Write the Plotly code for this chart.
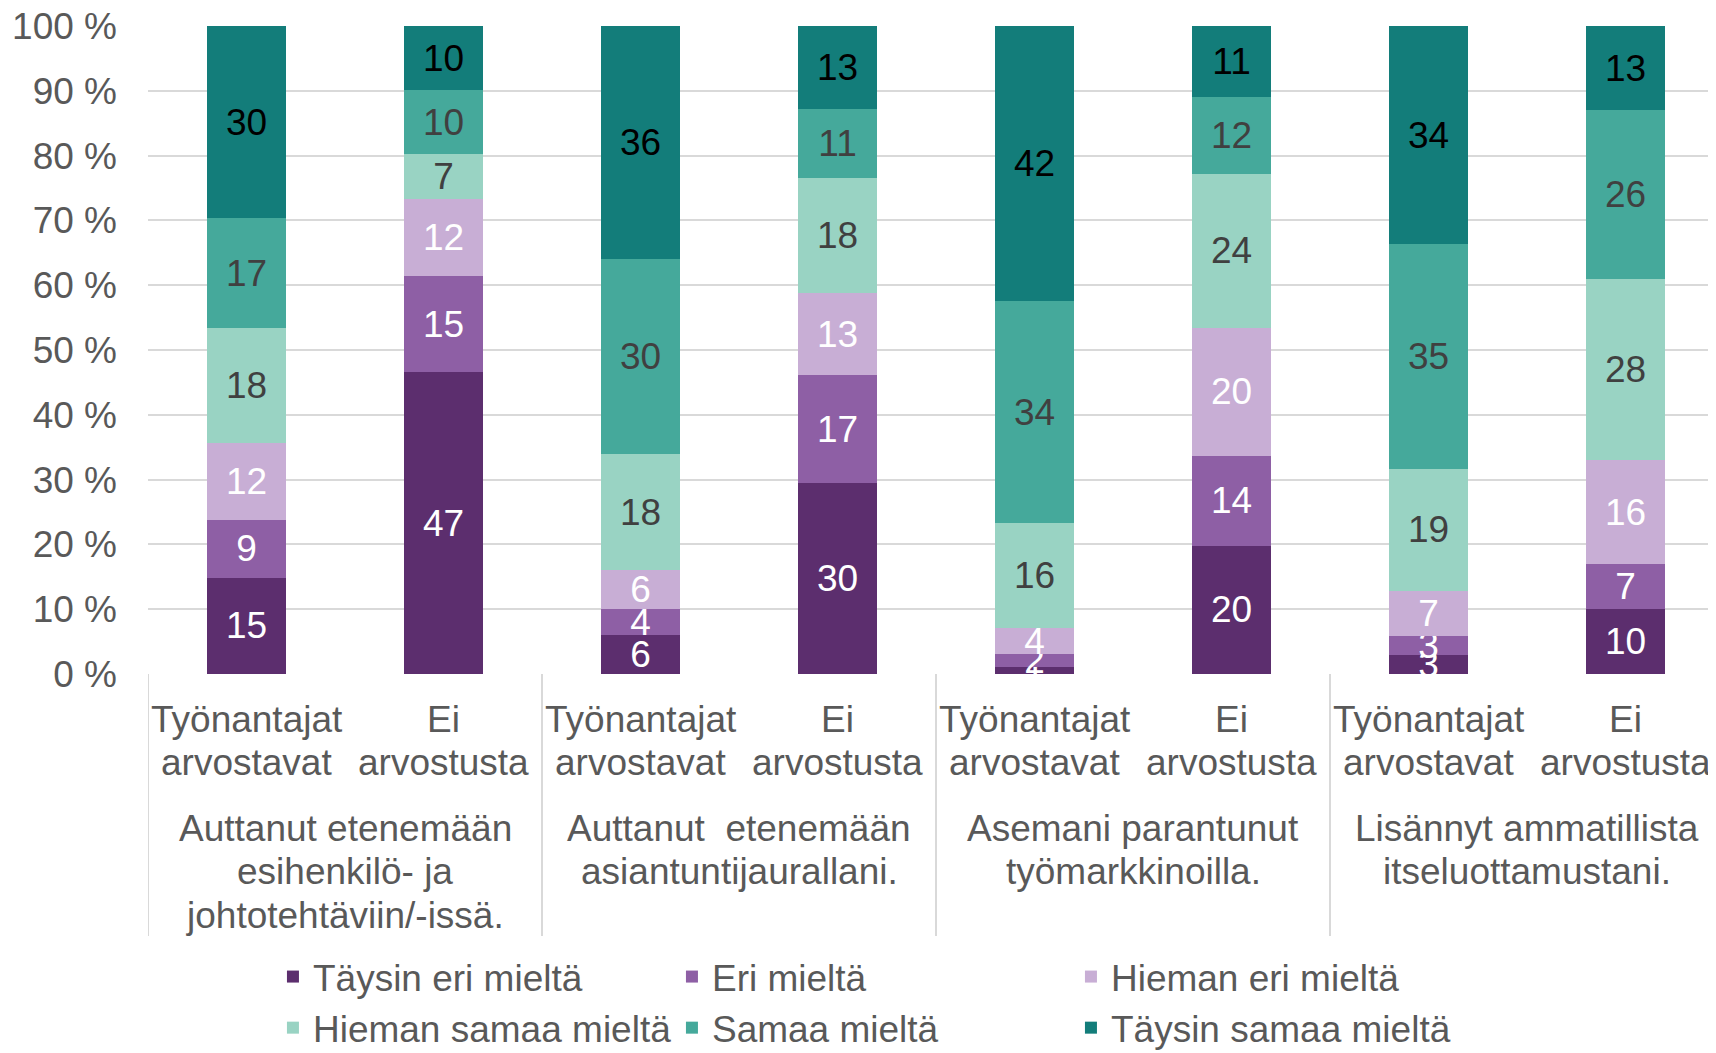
import plotly.graph_objects as go

groups = [
    ["Auttanut etenemään", "esihenkilö- ja", "johtotehtäviin/-issä."],
    ["Auttanut  etenemään", "asiantuntijaurallani."],
    ["Asemani parantunut", "työmarkkinoilla."],
    ["Lisännyt ammatillista", "itseluottamustani."],
]
subgroups = [["Työnantajat", "arvostavat"], ["Ei", "arvostusta"]]

series_names = ["Täysin eri mieltä", "Eri mieltä", "Hieman eri mieltä",
                "Hieman samaa mieltä", "Samaa mieltä", "Täysin samaa mieltä"]

# values per bar (group order, subgroup order)
taysin_eri = [15, 47, 6, 30, 1, 20, 3, 10]
eri = [9, 15, 4, 17, 2, 14, 3, 7]
hieman_eri = [12, 12, 6, 13, 4, 20, 7, 16]
hieman_samaa = [18, 7, 18, 18, 16, 24, 19, 28]
samaa = [17, 10, 30, 11, 34, 12, 35, 26]
taysin_samaa = [30, 10, 36, 13, 42, 11, 34, 13]

series_values = [taysin_eri, eri, hieman_eri, hieman_samaa, samaa, taysin_samaa]
colors = ["#5C2E6E", "#8E5FA5", "#C8AED5", "#99D3C3", "#45A99B", "#137D7A"]
text_colors = ["white", "white", "white", "#404040", "#404040", "black"]

n_sub = len(subgroups)
xpos = list(range(len(groups) * n_sub))

FONT = "Liberation Sans, Arial, sans-serif"
FS = 37
GRAY = "#595959"

W, H = 1716, 1053
L, T, B = 140, 18, 387
plot_h = H - T - B

fig = go.Figure()
for name, vals, col, tc in zip(series_names, series_values, colors, text_colors):
    fig.add_trace(go.Bar(
        x=xpos, y=vals, name=name, width=0.4,
        marker=dict(color=col, line=dict(width=0)),
        text=[str(v) for v in vals], textposition="inside",
        insidetextanchor="middle", textangle=0, constraintext="none",
        textfont=dict(color=tc, size=FS, family=FONT),
        hoverinfo="skip",
    ))

def py(px_below_axis):
    return -px_below_axis / plot_h

line_gap = 43.8
annotations = []
# inner category labels
for gi in range(len(groups)):
    for si, lines in enumerate(subgroups):
        x = gi * n_sub + si
        for li, t in enumerate(lines):
            annotations.append(dict(x=x, y=py(45 + li * line_gap), xref="x", yref="paper",
                                    text=t, showarrow=False, xanchor="center", yanchor="middle",
                                    font=dict(size=FS, color=GRAY, family=FONT)))
# outer group labels
for gi, lines in enumerate(groups):
    xc = gi * n_sub + (n_sub - 1) / 2
    for li, t in enumerate(lines):
        annotations.append(dict(x=xc, y=py(154 + li * line_gap), xref="x", yref="paper",
                                text=t, showarrow=False, xanchor="center", yanchor="middle",
                                font=dict(size=FS, color=GRAY, family=FONT)))

shapes = []
for gi in range(len(groups)):
    xd = gi * n_sub - 0.5
    shapes.append(dict(type="line", xref="x", yref="paper", x0=xd, x1=xd,
                       y0=0, y1=py(262), line=dict(color="#D9D9D9", width=2)))

fig.update_layout(
    barmode="stack", barnorm="percent",
    width=W, height=H,
    margin=dict(l=L, r=0, t=T, b=B),
    plot_bgcolor="white", paper_bgcolor="white",
    font=dict(family=FONT, size=FS, color=GRAY),
    legend=dict(orientation="h", xref="container", yref="container",
                x=0.1544, xanchor="left", y=0.1092, yanchor="top",
                entrywidth=354, entrywidthmode="pixels",
                font=dict(size=FS, color=GRAY, family=FONT), traceorder="normal"),
    showlegend=True,
    annotations=annotations,
    shapes=shapes,
)
fig.update_yaxes(range=[0, 100], dtick=10, ticksuffix=" %", showgrid=True,
                 gridcolor="#D9D9D9", gridwidth=2, zeroline=False, automargin=False,
                 tickfont=dict(size=FS, color=GRAY, family=FONT), ticks="",
                 ticklabelstandoff=30, ticklabeloverflow="allow")
fig.update_xaxes(range=[-0.5, 7.5], showticklabels=False, showgrid=False,
                 zeroline=False, showline=False, automargin=False)

fig.write_html("out.html")
